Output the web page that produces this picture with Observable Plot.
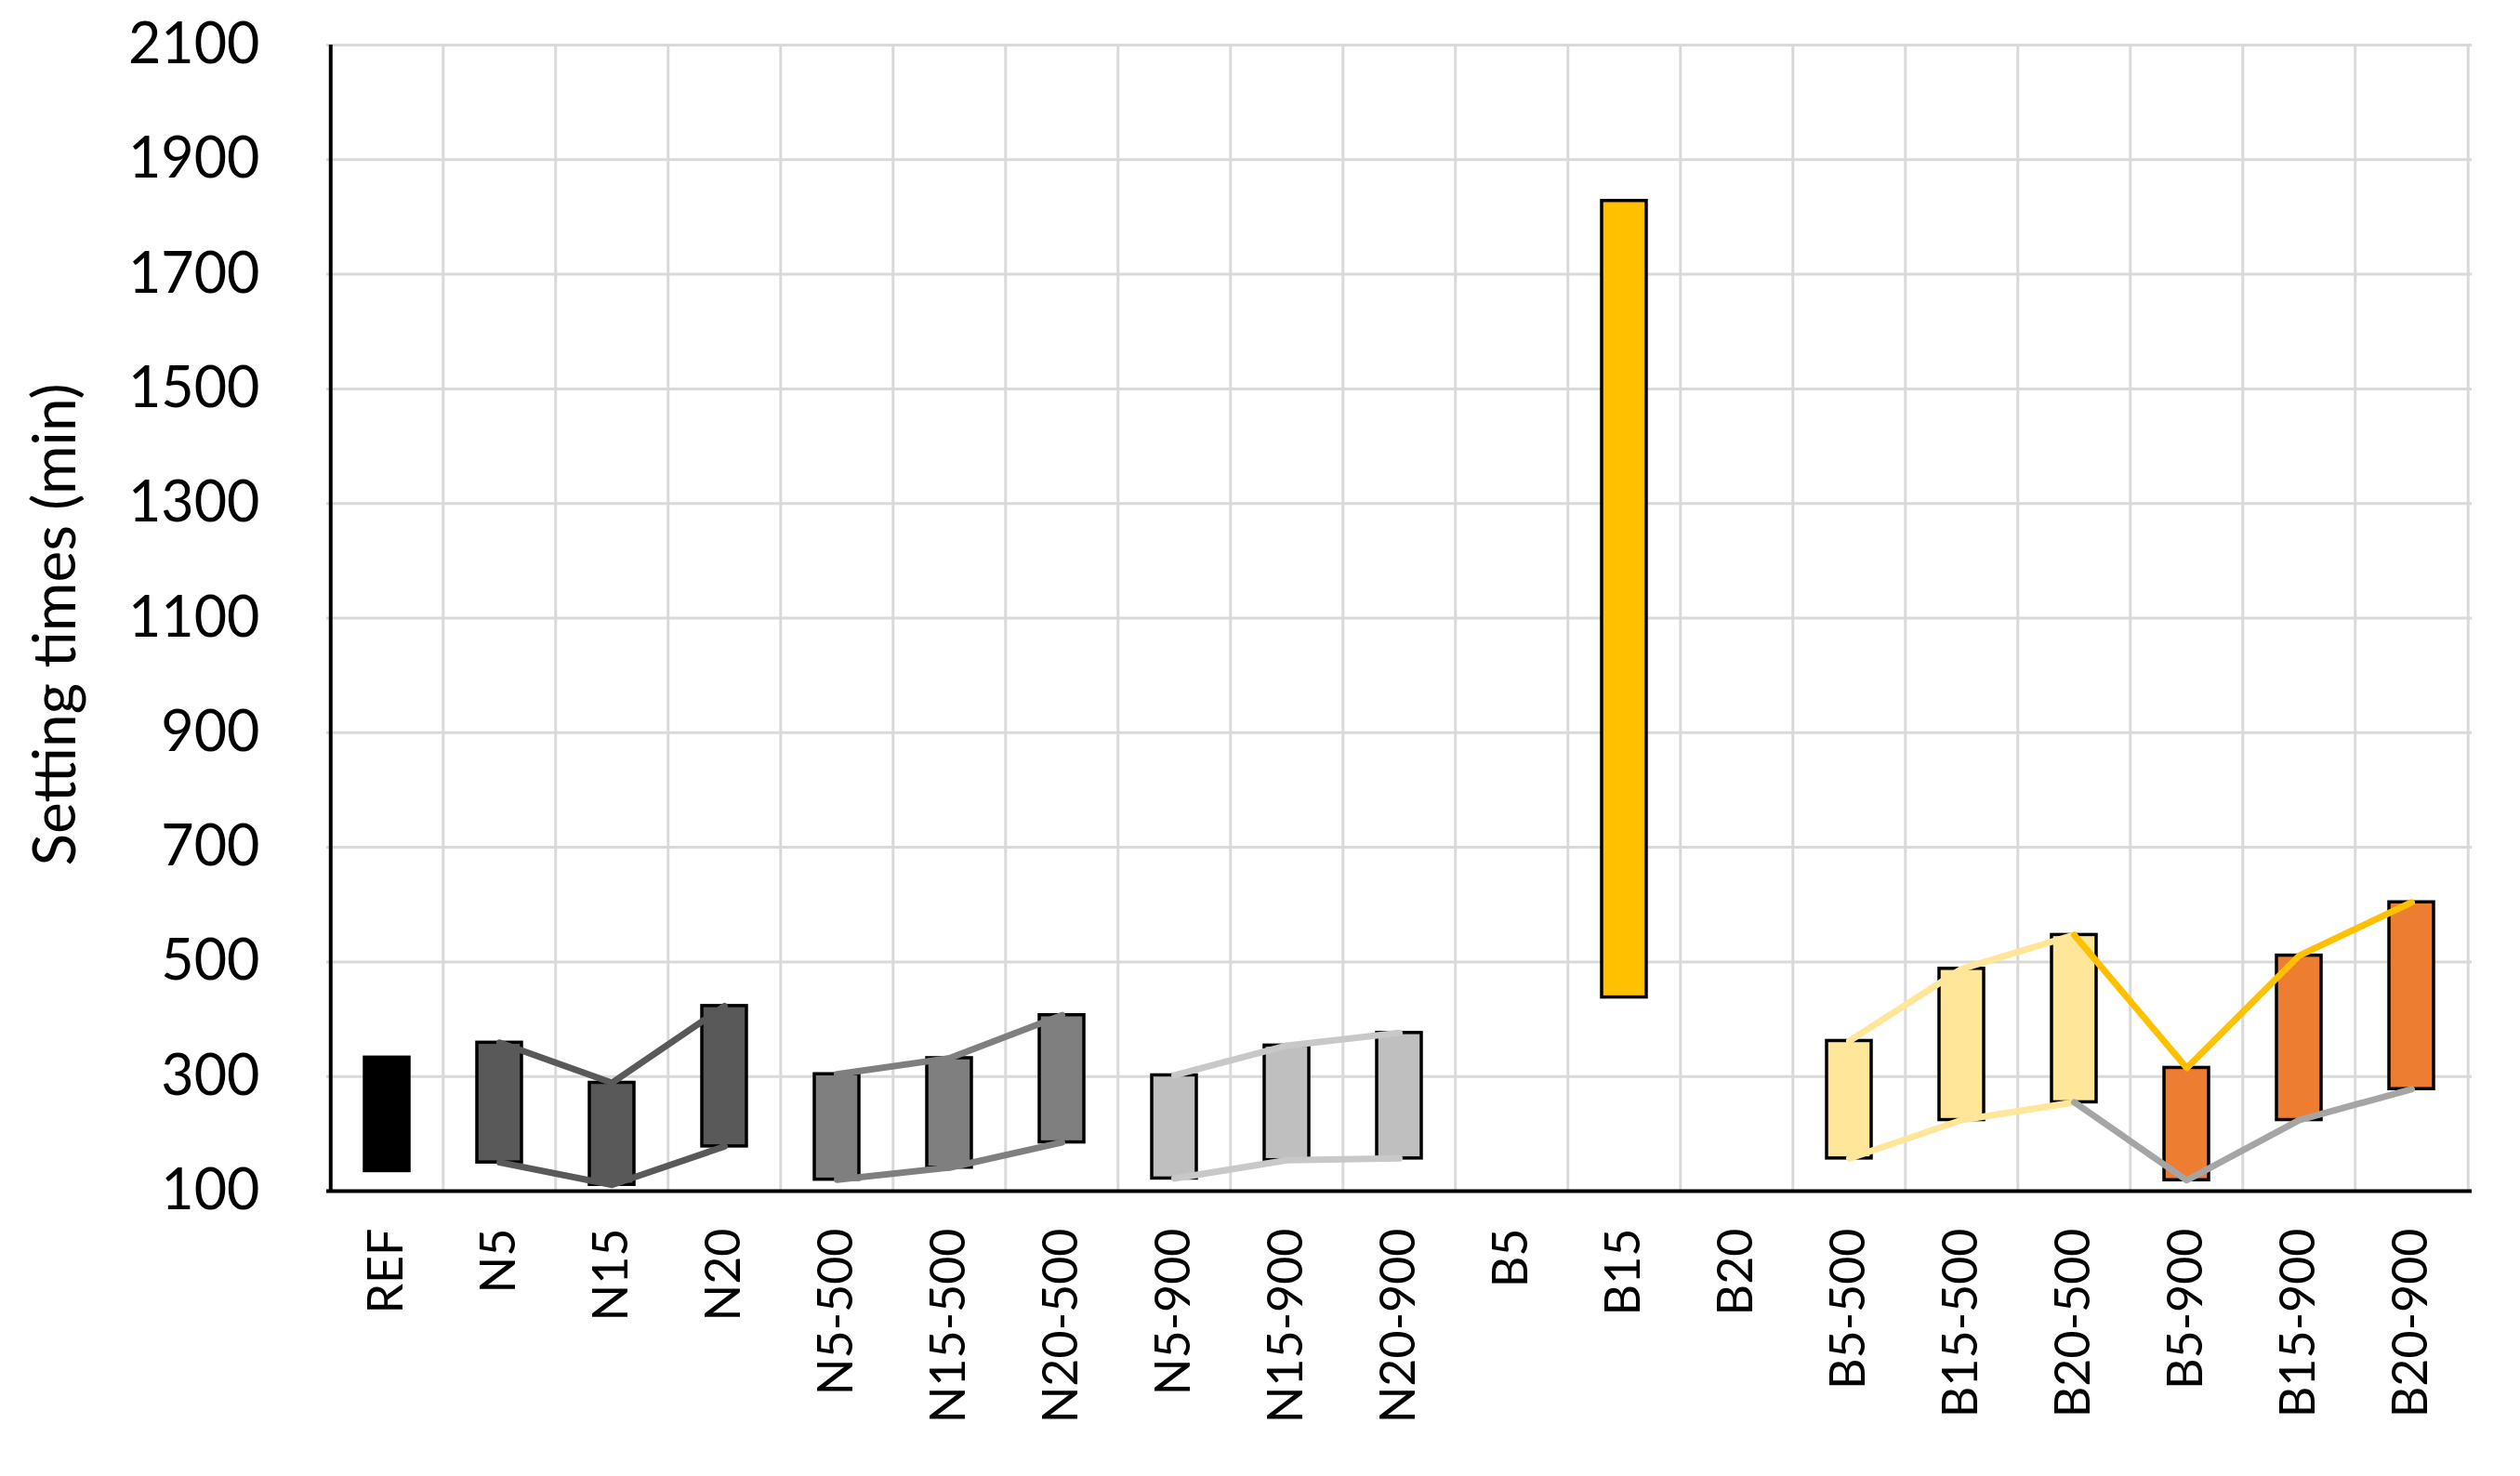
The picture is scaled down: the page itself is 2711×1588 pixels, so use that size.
<!DOCTYPE html>
<html>
<head>
<meta charset="utf-8">
<script src="https://cdn.jsdelivr.net/npm/d3@7"></script>
<script src="https://cdn.jsdelivr.net/npm/@observablehq/plot@0.6"></script>
<style>
  html, body { margin: 0; padding: 0; background: #ffffff; }
  #chart svg { display: block; }
</style>
</head>
<body>
<div id="chart"></div>
<script>
// ---- data ----
const categories = ["REF","N5","N15","N20","N5-500","N15-500","N20-500","N5-900","N15-900","N20-900",
                    "B5","B15","B20","B5-500","B15-500","B20-500","B5-900","B15-900","B20-900"];
const initialSetting = [135,150,111,178,120,141,185,122,154,157,null,438,null,157,224,255,119,224,278];
const finalSetting   = [333,359,289,423,304,332,407,302,354,376,null,1828,null,362,488,547,315,511,604];
const barFill = ["#000000","#595959","#595959","#595959","#7F7F7F","#7F7F7F","#7F7F7F","#BFBFBF","#BFBFBF","#BFBFBF",
                 "#FFC000","#FFC000","#FFC000","#FFE699","#FFE699","#FFE699","#ED7D31","#ED7D31","#ED7D31"];
const yTicks = [100,300,500,700,900,1100,1300,1500,1700,1900,2100];
const yTitle = "Setting times (min)";

// connecting lines: which categories, colour
const topLines = [
  {members: ["N5","N15","N20"], color: "#595959"},
  {members: ["N5-500","N15-500","N20-500"], color: "#7F7F7F"},
  {members: ["N5-900","N15-900","N20-900"], color: "#C8C8C8"},
  {members: ["B5-500","B15-500","B20-500"], color: "#FFE699"},
  {members: ["B20-500","B5-900","B15-900","B20-900"], color: "#FFC000"}
];
const bottomLines = [
  {members: ["N5","N15","N20"], color: "#595959"},
  {members: ["N5-500","N15-500","N20-500"], color: "#7F7F7F"},
  {members: ["N5-900","N15-900","N20-900"], color: "#C8C8C8"},
  {members: ["B5-500","B15-500","B20-500"], color: "#FFE699"},
  {members: ["B20-500","B5-900","B15-900","B20-900"], color: "#A5A5A5"}
];

// ---- build tables ----
const rows = categories.map((c, i) => ({cat: c, lo: initialSetting[i], hi: finalSetting[i], fill: barFill[i]}))
  .filter(d => d.lo != null && d.hi != null);
const lookup = new Map(categories.map((c, i) => [c, {lo: initialSetting[i], hi: finalSetting[i]}]));

const W = 2711, H = 1588;
const mL = 351, mR = 52, mT = 48, mB = 307;
const step = (W - mL - mR) / categories.length;

const lineMarks = [];
for (const s of topLines) {
  lineMarks.push(Plot.line(s.members.map(c => ({cat: c, v: lookup.get(c).hi})),
    {x: "cat", y: "v", stroke: s.color, strokeWidth: 7, strokeLinejoin: "round", strokeLinecap: "round"}));
}
for (const s of bottomLines) {
  lineMarks.push(Plot.line(s.members.map(c => ({cat: c, v: lookup.get(c).lo})),
    {x: "cat", y: "v", stroke: s.color, strokeWidth: 7, strokeLinejoin: "round", strokeLinecap: "round"}));
}

const chart = Plot.plot({
  width: W,
  height: H,
  marginLeft: mL,
  marginRight: mR,
  marginTop: mT,
  marginBottom: mB,
  style: {fontFamily: "Lato, 'Open Sans', sans-serif", color: "#000", background: "#fff"},
  x: {type: "band", domain: categories, paddingInner: 0.6, paddingOuter: 0.3},
  y: {domain: [100, 2100]},
  color: {type: "identity"},
  marks: [
    // gridlines
    Plot.ruleY(yTicks.filter(v => v > 100), {stroke: "#D9D9D9", strokeWidth: 3}),
    Plot.ruleX(categories.slice(1), {dx: -step / 2, stroke: "#D9D9D9", strokeWidth: 3}),
    Plot.ruleX(categories.slice(-1), {dx: step / 2, stroke: "#D9D9D9", strokeWidth: 3}),
    // floating bars (initial -> final setting)
    Plot.barY(rows, {x: "cat", y1: "lo", y2: "hi", fill: "fill", stroke: "#000", strokeWidth: 3.5}),
    // connecting lines
    ...lineMarks,
    // axis lines
    Plot.ruleY([100], {stroke: "#000", strokeWidth: 4}),
    Plot.ruleX(categories.slice(0, 1), {dx: -step / 2, stroke: "#000", strokeWidth: 4}),
    // axes
    Plot.axisY({ticks: yTicks, tickSize: 0, tickPadding: 72, tickFormat: d => String(d), fontSize: 61, label: null}),
    Plot.axisX({tickRotate: -90, tickSize: 0, tickPadding: 40, fontSize: 52, label: null}),
    Plot.text([yTitle], {frameAnchor: "left", dx: -291, dy: 7, rotate: -90, textAnchor: "middle", fontSize: 64, text: d => d})
  ]
});
document.getElementById("chart").appendChild(chart);
</script>
</body>
</html>
